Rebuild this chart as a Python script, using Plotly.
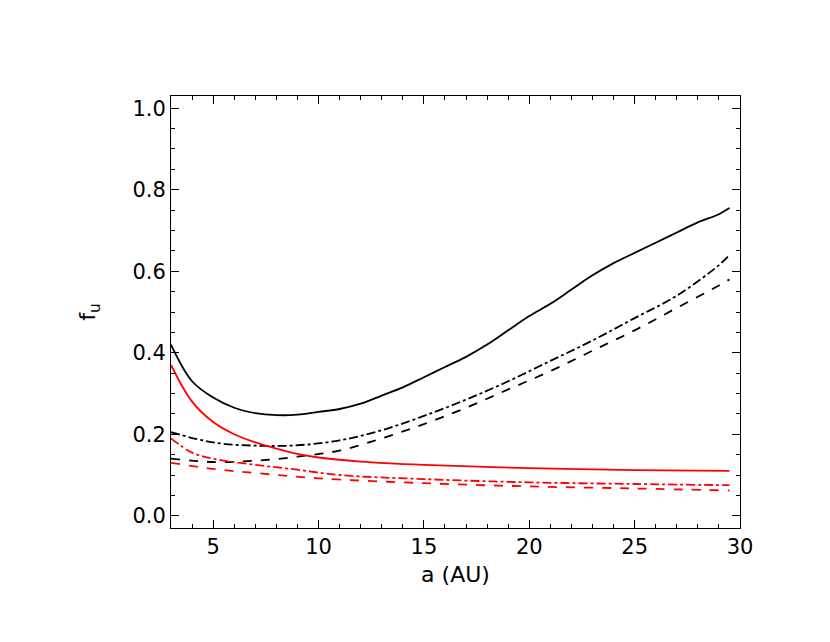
import plotly.graph_objects as go

x_bs = [3,4,5,6,7,8,9,10,11,12,13,14,15,16,17,18,19,20,21,22,23,24,25,26,27,28,29,29.5]
y_bs = [0.42,0.33,0.29,0.265,0.252,0.247,0.248,0.255,0.262,0.275,0.295,0.315,0.34,0.365,0.39,0.42,0.455,0.49,0.52,0.555,0.59,0.62,0.645,0.67,0.695,0.72,0.74,0.755]
x_b = [3,5,7,9,11,13,15,17,19,21,23,25,27,29,29.5]
y_bdd = [0.205,0.18,0.172,0.173,0.185,0.21,0.245,0.285,0.33,0.38,0.43,0.485,0.54,0.615,0.64]
y_bd = [0.14,0.132,0.135,0.145,0.16,0.19,0.225,0.265,0.31,0.355,0.405,0.455,0.51,0.565,0.58]
x_rs = [3,4,5,6,7,8,9,10,12,15,20,25,29.5]
y_rs = [0.37,0.28,0.23,0.2,0.18,0.165,0.152,0.143,0.133,0.125,0.117,0.112,0.11]
x_rdd = [3,4,5,7,9,11,15,20,25,29.5]
y_rdd = [0.19,0.155,0.14,0.125,0.113,0.1,0.09,0.082,0.078,0.075]
x_rd = [3,5,7,10,15,20,25,29.5]
y_rd = [0.13,0.115,0.105,0.092,0.08,0.072,0.067,0.062]

fig = go.Figure()
def add(x, y, c, d):
    fig.add_trace(go.Scatter(x=x, y=y, mode="lines", line=dict(color=c, dash=d, width=1.8, shape="spline"), showlegend=False))
add(x_bs, y_bs, "black", "solid")
add(x_b, y_bdd, "black", "dashdot")
add(x_b, y_bd, "black", "dash")
add(x_rs, y_rs, "red", "solid")
add(x_rdd, y_rdd, "red", "dashdot")
add(x_rd, y_rd, "red", "dash")

ax = dict(showgrid=False, zeroline=False, showline=True, linecolor="black", mirror="ticks",
          ticks="inside", ticklen=8, tickcolor="black", minor=dict(ticks="inside", ticklen=4, tickcolor="black"),
          tickfont=dict(size=21, color="black"))
fig.update_xaxes(range=[3, 30], tickvals=[5,10,15,20,25,30], minor_dtick=1,
                 title=dict(text="a (AU)", font=dict(size=22, color="black"), standoff=8), **ax)
fig.update_yaxes(range=[-0.03, 1.03], tickvals=[0,0.2,0.4,0.6,0.8,1.0], ticktext=["0.0","0.2","0.4","0.6","0.8","1.0"],
                 minor_dtick=0.05, title=dict(text="f<sub>u</sub>", font=dict(size=22, color="black"), standoff=30), **ax)
fig.update_layout(width=830, height=642, plot_bgcolor="white", paper_bgcolor="white",
                  font=dict(family="DejaVu Sans"),
                  margin=dict(l=163, r=98, t=88, b=122, autoexpand=False))
fig.write_html("out.html")
